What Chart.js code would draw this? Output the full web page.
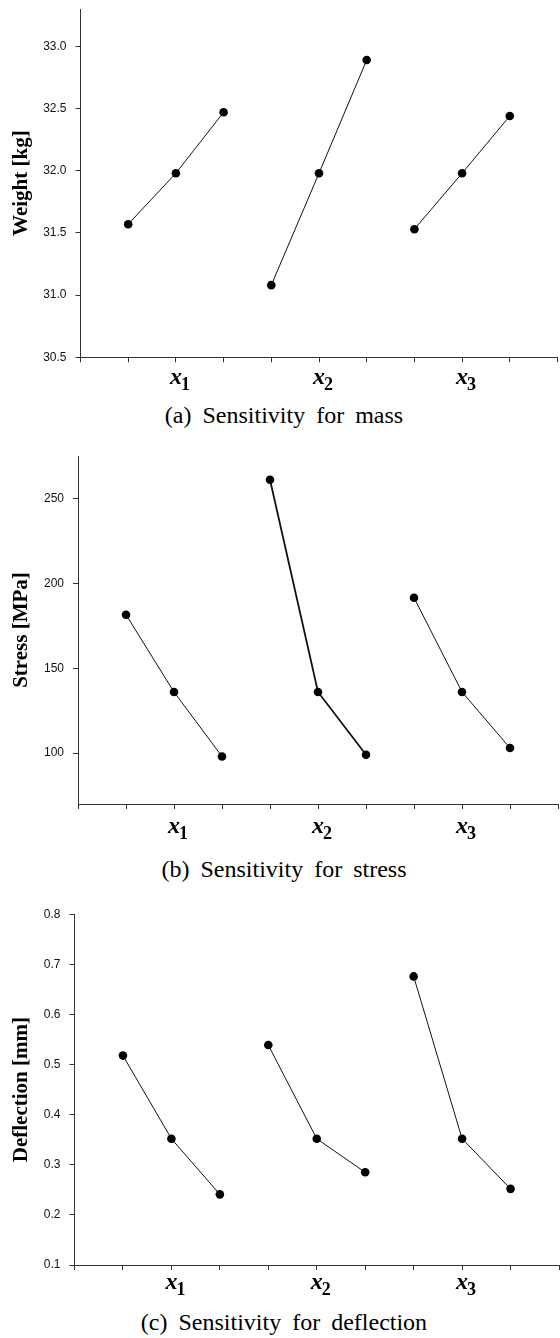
<!DOCTYPE html>
<html>
<head>
<meta charset="utf-8">
<script src="https://cdn.jsdelivr.net/npm/chart.js@4.4.1/dist/chart.umd.min.js"></script>
<style>
  body { margin: 0; background: #fff; }
  #wrap { position: relative; width: 560px; height: 1338px; }
  canvas { position: absolute; left: 0; }
  .cap {
    position: absolute; left: 4px; width: 560px; text-align: center;
    font: 24px "Liberation Serif", "Times New Roman", serif; line-height: 28px;
    word-spacing: 5px; color: #000;
  }
</style>
</head>
<body>
<div id="wrap">
  <canvas id="massChart" width="560" height="400" style="top:0px"></canvas>
  <div class="cap" style="top:401px">(a) Sensitivity for mass</div>
  <canvas id="stressChart" width="560" height="400" style="top:447px"></canvas>
  <div class="cap" style="top:855px">(b) Sensitivity for stress</div>
  <canvas id="deflChart" width="560" height="400" style="top:905px"></canvas>
  <div class="cap" style="top:1308px">(c) Sensitivity for deflection</div>
</div>
<script>
// factor levels sit at x = 1..9 on a 0..10 axis
const levelX = [[1, 2, 3], [4, 5, 6], [7, 8, 9]];
const xTickVals = [0, 1, 2, 3, 4, 5, 6, 7, 8, 9, 10];
const factorPos = [2, 5, 8];
const factorSubs = ['1', '2', '3'];

// (a) weight
const weightX1 = [31.57, 31.98, 32.47];
const weightX2 = [31.08, 31.98, 32.89];
const weightX3 = [31.53, 31.98, 32.44];
const weightTicks = [30.5, 31.0, 31.5, 32.0, 32.5, 33.0];

// (b) stress
const stressX1 = [181.5, 136, 98];
const stressX2 = [261, 136, 99];
const stressX3 = [191.5, 136, 103];
const stressTicks = [100, 150, 200, 250];

// (c) deflection
const deflX1 = [0.518, 0.352, 0.241];
const deflX2 = [0.539, 0.352, 0.285];
const deflX3 = [0.676, 0.352, 0.252];
const deflTicks = [0.1, 0.2, 0.3, 0.4, 0.5, 0.6, 0.7, 0.8];

// draws x with a subscript under each factor tick
const factorLabels = {
    id: 'factorLabels',
    afterDraw(chart, args, opts) {
        const xs = chart.scales.x;
        const ctx = chart.ctx;
        ctx.save();
        ctx.fillStyle = '#000';
        ctx.textBaseline = 'alphabetic';
        factorPos.forEach((pos, i) => {
            const px = xs.getPixelForValue(pos);
            const py = xs.top + opts.offset;
            ctx.font = 'italic bold 24px "Liberation Serif", "Times New Roman", serif';
            ctx.textAlign = 'center';
            ctx.fillText('x', px, py);
            const w = ctx.measureText('x').width;
            ctx.font = 'bold 18px "Liberation Serif", "Times New Roman", serif';
            ctx.textAlign = 'left';
            ctx.fillText(factorSubs[i], px + w / 2 - 1, py + 6);
        });
        ctx.restore();
    }
};

function makeChart(id, groups, opts) {
    const datasets = groups.map((vals, i) => ({
        data: vals.map((v, j) => ({ x: levelX[i][j], y: v })),
        borderColor: '#111',
        borderWidth: opts.widths ? opts.widths[i] : 1,
        pointBackgroundColor: '#000',
        pointBorderColor: '#000',
        pointRadius: 4.3,
        pointBorderWidth: 0,
        tension: 0,
        fill: false
    }));
    return new Chart(document.getElementById(id).getContext('2d'), {
        type: 'line',
        data: { datasets: datasets },
        options: {
            responsive: false,
            animation: false,
            devicePixelRatio: 1,
            layout: {
                autoPadding: false,
                padding: { top: opts.top, right: 560 - opts.right, left: 0, bottom: 0 }
            },
            plugins: {
                legend: { display: false },
                tooltip: { enabled: false },
                factorLabels: { offset: opts.labelOffset }
            },
            scales: {
                x: {
                    type: 'linear',
                    min: 0,
                    max: 10,
                    afterBuildTicks: (s) => { s.ticks = xTickVals.map(v => ({ value: v })); },
                    afterFit: (s) => { s.height = 400 - opts.bottom; s.paddingLeft = 0; s.paddingRight = 0; },
                    ticks: { display: false },
                    grid: { drawOnChartArea: false, drawTicks: true, tickLength: 5, color: '#333' },
                    border: { display: true, color: '#333', width: 1 }
                },
                y: {
                    min: opts.min,
                    max: opts.max,
                    afterBuildTicks: (s) => { s.ticks = opts.ticks.map(v => ({ value: v })); },
                    // fixed axis width, and no extra top/bottom room for labels
                    afterFit: (s) => { s.width = opts.left; s.paddingTop = 0; s.paddingBottom = 0; },
                    ticks: {
                        padding: 9,
                        color: '#111',
                        font: { family: '"Liberation Sans", Arial, sans-serif', size: 12 },
                        callback: (v) => opts.fmt(v)
                    },
                    grid: { drawOnChartArea: false, drawTicks: true, tickLength: 5, color: '#333' },
                    border: { display: true, color: '#333', width: 1 },
                    title: {
                        display: true,
                        text: opts.title,
                        color: '#000',
                        padding: { top: 9, bottom: 0 },
                        font: { family: '"Liberation Serif", "Times New Roman", serif', size: 21, weight: 'bold' }
                    }
                }
            }
        },
        plugins: [factorLabels]
    });
}

makeChart('massChart', [weightX1, weightX2, weightX3], {
    min: 30.5, max: 33.3, ticks: weightTicks, fmt: v => v.toFixed(1),
    title: 'Weight [kg]', top: 9, bottom: 357.3, left: 80.5, right: 557.5, labelOffset: 27
});
makeChart('stressChart', [stressX1, stressX2, stressX3], {
    min: 70, max: 275, ticks: stressTicks, fmt: v => String(v),
    title: 'Stress [MPa]', top: 9, bottom: 357, left: 78, right: 558, labelOffset: 29,
    widths: [1, 1.8, 1]
});
makeChart('deflChart', [deflX1, deflX2, deflX3], {
    min: 0.1, max: 0.8, ticks: deflTicks, fmt: v => v.toFixed(1),
    title: 'Deflection [mm]', top: 9.3, bottom: 360, left: 74.5, right: 559, labelOffset: 24
});
</script>
</body>
</html>
